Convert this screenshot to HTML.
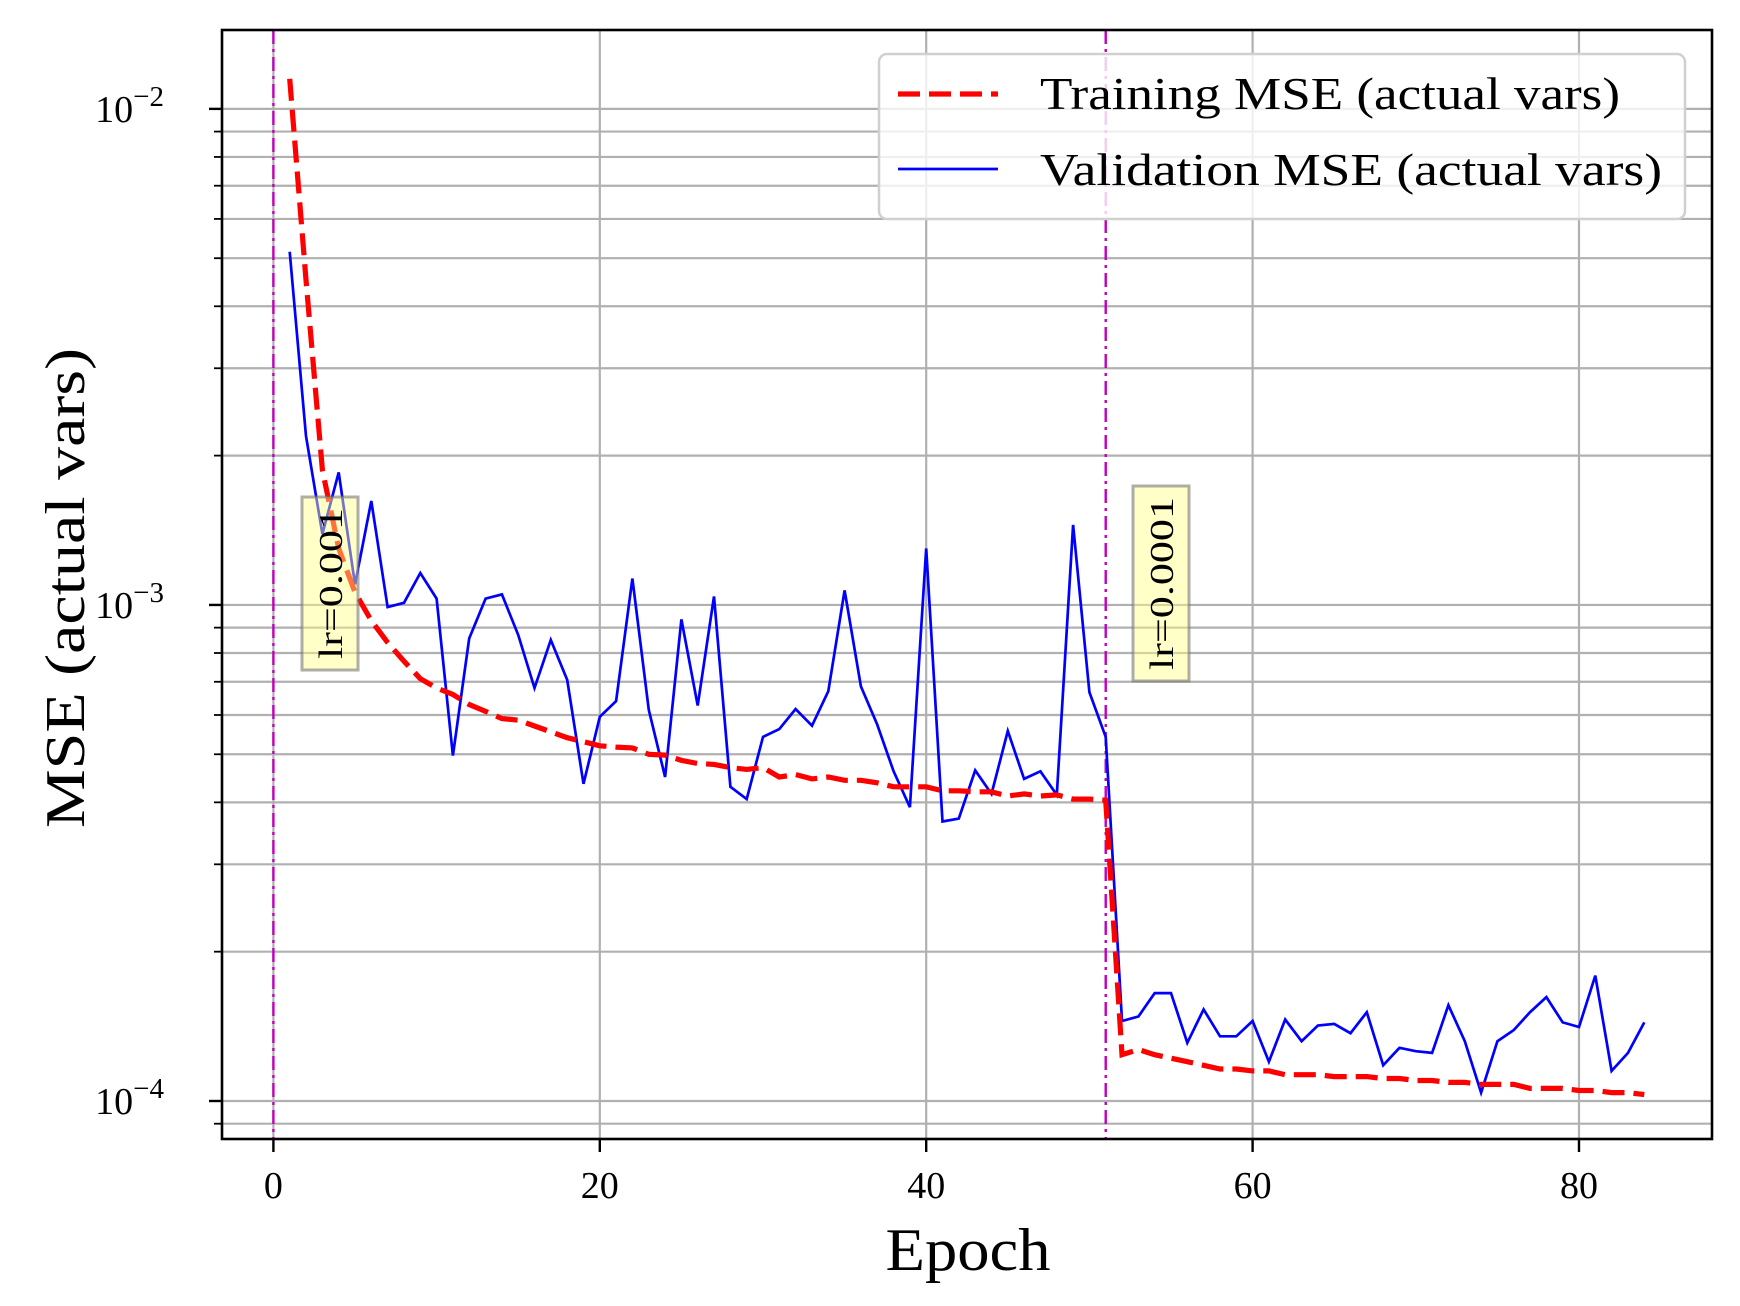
<!DOCTYPE html>
<html><head><meta charset="utf-8"><style>
html,body{margin:0;padding:0;background:#fff;}
svg{display:block;font-family:"Liberation Serif","DejaVu Serif",serif;}
</style></head><body>
<svg id="chart" width="1740" height="1306" viewBox="0 0 1740 1306" xmlns="http://www.w3.org/2000/svg">
<rect x="0" y="0" width="1740" height="1306" fill="#fff"/>
<g id="grid"></g>
<g id="vlines"></g>
<g id="series"></g>
<g id="annots"></g>
<g id="axes"></g>
<g id="legend"></g>
</svg>
<script>
const trainEpochs = [1,2,3,4,5,6,7,8,9,10,11,12,13,14,15,16,17,18,19,20,21,22,23,24,25,26,27,28,29,30,31,32,33,34,35,36,37,38,39,40,41,42,43,44,45,46,47,48,49,50,51,52,53,54,55,56,57,58,59,60,61,62,63,64,65,66,67,68,69,70,71,72,73,74,75,76,77,78,79,80,81,82,83,84];
const trainMSE = [1.15e-2,4.52e-3,1.87e-3,1.3e-3,1.06e-3,9.3e-4,8.4e-4,7.7e-4,7.1e-4,6.8e-4,6.6e-4,6.3e-4,6.1e-4,5.9e-4,5.86e-4,5.7e-4,5.55e-4,5.4e-4,5.3e-4,5.2e-4,5.17e-4,5.15e-4,5.0e-4,4.98e-4,4.86e-4,4.79e-4,4.77e-4,4.7e-4,4.66e-4,4.7e-4,4.5e-4,4.55e-4,4.46e-4,4.5e-4,4.43e-4,4.43e-4,4.38e-4,4.3e-4,4.3e-4,4.3e-4,4.22e-4,4.22e-4,4.2e-4,4.2e-4,4.12e-4,4.16e-4,4.12e-4,4.14e-4,4.06e-4,4.06e-4,4.04e-4,1.24e-4,1.27e-4,1.24e-4,1.22e-4,1.2e-4,1.18e-4,1.16e-4,1.16e-4,1.15e-4,1.15e-4,1.13e-4,1.13e-4,1.13e-4,1.12e-4,1.12e-4,1.12e-4,1.11e-4,1.11e-4,1.1e-4,1.1e-4,1.09e-4,1.09e-4,1.08e-4,1.08e-4,1.08e-4,1.06e-4,1.06e-4,1.06e-4,1.05e-4,1.05e-4,1.04e-4,1.04e-4,1.03e-4];
const valMSE = [5.15e-3,2.19e-3,1.39e-3,1.85e-3,1.1e-3,1.62e-3,0.99e-3,1.01e-3,1.16e-3,1.03e-3,4.97e-4,8.56e-4,1.03e-3,1.05e-3,8.7e-4,6.8e-4,8.5e-4,7.06e-4,4.36e-4,5.95e-4,6.4e-4,1.13e-3,6.14e-4,4.5e-4,9.35e-4,6.27e-4,1.04e-3,4.3e-4,4.06e-4,5.42e-4,5.62e-4,6.17e-4,5.71e-4,6.7e-4,1.07e-3,6.85e-4,5.74e-4,4.62e-4,3.91e-4,1.3e-3,3.66e-4,3.71e-4,4.64e-4,4.16e-4,5.57e-4,4.46e-4,4.62e-4,4.14e-4,1.45e-3,6.67e-4,5.42e-4,1.45e-4,1.48e-4,1.65e-4,1.65e-4,1.31e-4,1.53e-4,1.35e-4,1.35e-4,1.45e-4,1.2e-4,1.46e-4,1.32e-4,1.42e-4,1.43e-4,1.37e-4,1.51e-4,1.18e-4,1.28e-4,1.26e-4,1.25e-4,1.56e-4,1.32e-4,1.04e-4,1.32e-4,1.39e-4,1.51e-4,1.62e-4,1.44e-4,1.41e-4,1.79e-4,1.15e-4,1.25e-4,1.44e-4];
const xTicks = [0,20,40,60,80];
const yDecades = [-4,-3,-2];
const lrEpochs = [0,51];
const lrLabels = ["lr=0.001","lr=0.0001"];

const NS="http://www.w3.org/2000/svg";
const L=222,R=1712,T=30,B=1139;
const xmin=-3.15,xmax=88.15, lmin=-4.0766, lmax=-1.841;
function X(v){return L+(v-xmin)/(xmax-xmin)*(R-L);}
function Y(v){return B-(Math.log10(v)-lmin)/(lmax-lmin)*(B-T);}
function mk(tag,attrs,parent){const e=document.createElementNS(NS,tag);for(const k in attrs)e.setAttribute(k,attrs[k]);parent.appendChild(e);return e;}

const grid=document.getElementById('grid');
for(let d=-5; d<=-2; d++){
  for(let m=1;m<=9;m++){
    const v=m*Math.pow(10,d); const y=Y(v);
    if(y<T||y>B) continue;
    const ln=mk('line',{x1:L,x2:R,y1:y,y2:y,stroke:'#b0b0b0','stroke-width':2.2},grid);
    
    
  }
}
xTicks.forEach(t=>{
  const ln=mk('line',{x1:X(t),x2:X(t),y1:T,y2:B,stroke:'#b0b0b0','stroke-width':2.2},grid);
  
  
});

const vl=document.getElementById('vlines');
lrEpochs.forEach(e=>{
  const ln=mk('line',{x1:X(e),x2:X(e),y1:T,y2:B,stroke:'#bf00bf','stroke-width':2.4,'stroke-dasharray':'14 5 3 5'},vl);
  
  
});

const ser=document.getElementById('series');
function pts(ys){return trainEpochs.map((e,i)=>X(e).toFixed(1)+','+Y(ys[i]).toFixed(1)).join(' ');}
const vp=mk('polyline',{points:pts(valMSE),fill:'none',stroke:'#0000ff','stroke-width':2.7,'stroke-linejoin':'miter'},ser);


const tp=mk('polyline',{points:pts(trainMSE),fill:'none',stroke:'#ff0000','stroke-width':5.2,'stroke-dasharray':'22 9'},ser);



const an=document.getElementById('annots');
const boxes=[[302,497,56,173],[1133,486,56,195]];
lrEpochs.forEach((e,i)=>{
  const b=boxes[i];
  const r=mk('rect',{x:b[0],y:b[1],width:b[2],height:b[3],fill:'rgba(255,255,130,0.45)',stroke:'rgba(120,120,120,0.6)','stroke-width':3},an);
  
  
  const cx=b[0]+b[2]/2+12, cy=b[1]+b[3]/2;
  const t=mk('text',{x:0,y:0,transform:`translate(${cx},${cy}) rotate(-90)`,'text-anchor':'middle','font-size':34,textLength:b[3]-22,lengthAdjust:'spacingAndGlyphs',fill:'#000'},an);
  t.textContent=lrLabels[i];
  
  
});

const ax=document.getElementById('axes');
const fr=mk('rect',{x:L,y:T,width:R-L,height:B-T,fill:'none',stroke:'#000','stroke-width':2.6},ax);


xTicks.forEach(t=>{
  mk('line',{x1:X(t),x2:X(t),y1:B,y2:B+13,stroke:'#000','stroke-width':2.4},ax);
  const tx=mk('text',{x:X(t),y:B+59,'text-anchor':'middle','font-size':38,fill:'#000'},ax);
  tx.textContent=String(t);
  
  
});
for(let d=-5; d<=-2; d++){
  for(let m=1;m<=9;m++){
    const y=Y(m*Math.pow(10,d)); if(y<T||y>B) continue;
    mk('line',{x1:L-(m===1?13:8),x2:L,y1:y,y2:y,stroke:'#000','stroke-width':m===1?2.4:1.8},ax);
  }
}
yDecades.forEach(d=>{
  const y=Y(Math.pow(10,d));
  const tx=mk('text',{x:164,y:y+13,'text-anchor':'end','font-size':38,fill:'#000'},ax);
  
  
  const a=document.createElementNS(NS,'tspan'); a.textContent='10'; tx.appendChild(a);
  const s=document.createElementNS(NS,'tspan'); s.setAttribute('dy','-16'); s.setAttribute('font-size','29'); s.textContent='\u2212'+Math.abs(d); tx.appendChild(s);
});
const xl=mk('text',{x:968,y:1270,'text-anchor':'middle','font-size':60,textLength:165,lengthAdjust:'spacingAndGlyphs',fill:'#000'},ax);
xl.textContent='Epoch';


const yl=mk('text',{x:0,y:0,transform:'translate(84,588) rotate(-90)','text-anchor':'middle','font-size':56,textLength:480,lengthAdjust:'spacingAndGlyphs',fill:'#000'},ax);
yl.textContent='MSE (actual vars)';



const lg=document.getElementById('legend');
const lb=mk('rect',{x:879,y:54,width:806,height:165,rx:8,fill:'rgba(255,255,255,0.8)',stroke:'#d0d0d0','stroke-width':2.5},lg);


const l1=mk('line',{x1:898,x2:998,y1:94,y2:94,stroke:'#ff0000','stroke-width':5.2,'stroke-dasharray':'22 9'},lg);


const t1=mk('text',{x:1040,y:109,'font-size':46,textLength:580,lengthAdjust:'spacingAndGlyphs',fill:'#000'},lg);
t1.textContent='Training MSE (actual vars)';


const l2=mk('line',{x1:898,x2:998,y1:169,y2:169,stroke:'#0000ff','stroke-width':2.7},lg);


const t2=mk('text',{x:1040,y:185,'font-size':46,textLength:622,lengthAdjust:'spacingAndGlyphs',fill:'#000'},lg);
t2.textContent='Validation MSE (actual vars)';


</script>
</body></html>
